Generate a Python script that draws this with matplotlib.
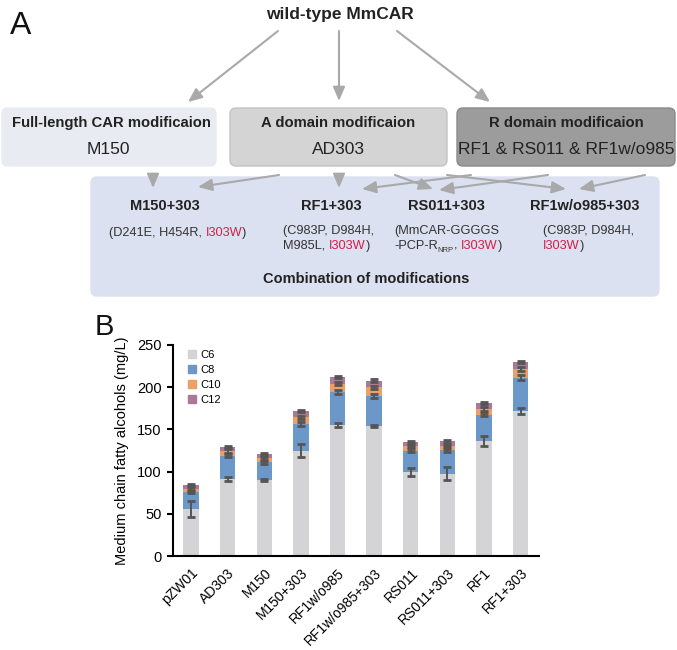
import matplotlib
matplotlib.use("Agg")
import matplotlib.pyplot as plt
from matplotlib.patches import FancyBboxPatch, FancyArrowPatch
from matplotlib.lines import Line2D
import numpy as np

plt.rcParams['font.family'] = ['Liberation Sans', 'DejaVu Sans']

# ---------------- data ----------------
strains = ["pZW01", "AD303", "M150", "M150+303", "RF1w/o985", "RF1w/o985+303",
           "RS011", "RS011+303", "RF1", "RF1+303"]
series = ["C6", "C8", "C10", "C12"]
c6 = [55.7, 91.2, 90.0, 124.8, 154.8, 154.0, 99.5, 97.6, 136.7, 171.4]
c8 = [20.5, 27.7, 21.0, 32.0, 39.5, 35.6, 25.3, 27.6, 30.8, 39.9]
c10 = [3.2, 5.5, 4.7, 7.5, 9.9, 10.2, 5.5, 5.1, 6.7, 10.3]
c12 = [4.7, 5.1, 5.1, 7.1, 7.5, 7.9, 4.7, 5.6, 6.7, 8.3]
c6_err = [9.0, 2.0, 1.5, 8.0, 2.5, 1.5, 4.5, 8.0, 6.0, 3.5]
c8_err = [2.0, 2.0, 1.5, 2.5, 2.5, 2.0, 2.0, 2.0, 2.0, 3.0]
c10_err = [2.0, 2.0, 1.5, 2.0, 2.0, 2.0, 1.5, 1.5, 2.0, 2.0]
c12_err = [1.0, 1.0, 1.0, 1.0, 1.0, 1.5, 1.0, 1.5, 1.0, 1.0]
yticks = [0, 50, 100, 150, 200, 250]
ylabel = "Medium chain fatty alcohols (mg/L)"

colors = ["#d4d4d6", "#6c97c9", "#eda065", "#a97a96"]
ecol = "#555555"
red = "#d41f47"
arrow_col = "#a9a9a9"

fig = plt.figure(figsize=(6.77, 6.5), dpi=100)

# ---------------- panel A (pixel coordinate overlay) ----------------
axA = fig.add_axes([0, 0, 1, 1])
axA.set_xlim(0, 677)
axA.set_ylim(650, 0)
axA.axis("off")

axA.text(10, 26, "A", fontsize=23, ha="left", va="center", color="#111111")
axA.text(340, 14, "wild-type MmCAR", fontsize=12.5, fontweight="bold",
         ha="center", va="center", color="#222222")

def rbox(x0, y0, x1, y1, fc, ec):
    p = FancyBboxPatch((x0 + 6, y0 + 6), (x1 - x0) - 12, (y1 - y0) - 12,
                       boxstyle="round,pad=6", fc=fc, ec=ec, lw=1.0)
    axA.add_patch(p)

rbox(2, 108, 216, 166, "#e8ecf2", "#e8ecf2")
rbox(230, 108, 447, 166, "#d4d4d4", "#c4c4c4")
rbox(457, 108, 675, 166, "#9c9c9c", "#8a8a8a")
rbox(91, 177, 659, 296, "#dbe1f0", "#dbe1f0")

hdr_fs = 10.7
axA.text(111, 123, "Full-length CAR modificaion", fontsize=hdr_fs, fontweight="bold",
         ha="center", va="center", color="#222222")
axA.text(108, 149, "M150", fontsize=12.5, ha="center", va="center", color="#222222")
axA.text(338, 123, "A domain modificaion", fontsize=hdr_fs, fontweight="bold",
         ha="center", va="center", color="#222222")
axA.text(338, 149, "AD303", fontsize=12.5, ha="center", va="center", color="#222222")
axA.text(566, 123, "R domain modificaion", fontsize=hdr_fs, fontweight="bold",
         ha="center", va="center", color="#222222")
axA.text(566, 149, "RF1 & RS011 & RF1w/o985", fontsize=12.5, ha="center", va="center",
         color="#222222")

def arrow(p0, p1):
    a = FancyArrowPatch(p0, p1, arrowstyle="-|>,head_length=0.7,head_width=0.3",
                        mutation_scale=12, color=arrow_col, lw=1.5, shrinkA=0, shrinkB=0)
    axA.add_patch(a)

arrow((278, 31), (188, 102))
arrow((339, 31), (339, 101))
arrow((397, 31), (490, 102))
arrow((153, 175), (153, 188))
arrow((279, 175), (198, 187))
arrow((339, 175), (339, 188))
arrow((395, 175), (433, 189))
arrow((447, 175), (566, 189))
arrow((471, 175), (362, 189))
arrow((548, 175), (439, 190))
arrow((645, 175), (579, 189))

# combination texts
axA.text(165, 206, "M150+303", fontsize=10.5, fontweight="bold", ha="center", va="center",
         color="#222222")
axA.text(331, 206, "RF1+303", fontsize=10.5, fontweight="bold", ha="center", va="center",
         color="#222222")
axA.text(446, 206, "RS011+303", fontsize=10.5, fontweight="bold", ha="center", va="center",
         color="#222222")
axA.text(585, 206, "RF1w/o985+303", fontsize=10.5, fontweight="bold", ha="center", va="center",
         color="#222222")
axA.text(366, 279, "Combination of modifications", fontsize=10.5, fontweight="bold",
         ha="center", va="center", color="#222222")

sm = 9.2
dark = "#333333"

def chain(x, y, pieces):
    first = axA.text(x, y, pieces[0][0], fontsize=sm, color=pieces[0][1],
                     ha="left", va="center")
    prev = first
    for s, c in pieces[1:]:
        if c == "sub":
            t = axA.annotate(s, xy=(1, 0), xycoords=(prev, first), fontsize=5.5,
                             color=dark, ha="left", va="bottom",
                             xytext=(0, -1.5), textcoords="offset points")
        else:
            t = axA.annotate(s, xy=(1, 0.5), xycoords=(prev, first), fontsize=sm,
                             color=c, ha="left", va="center")
        prev = t
    return first

chain(109, 233, [("(D241E, H454R, ", dark), ("I303W", red), (")", dark)])
chain(283, 231, [("(C983P, D984H,", dark)])
chain(283, 246, [("M985L, ", dark), ("I303W", red), (")", dark)])
chain(394, 231, [("(MmCAR-GGGGS", dark)])
chain(394, 246, [("-PCP-R", dark), ("NRP", "sub"), (", ", dark), ("I303W", red), (")", dark)])
chain(543, 231, [("(C983P, D984H,", dark)])
chain(543, 246, [("I303W", red), (")", dark)])

axA.text(95, 327, "B", fontsize=21, ha="left", va="center", color="#111111")

# ---------------- panel B (bar chart) ----------------
ax = fig.add_axes([172.7 / 677, (650 - 556) / 650, 366.3 / 677, (556 - 345) / 650])
x = np.arange(len(strains))
w = 0.42
vals = [np.array(c6), np.array(c8), np.array(c10), np.array(c12)]
errs = [c6_err, c8_err, c10_err, c12_err]
bottom = np.zeros(len(strains))
for v, c, lab in zip(vals, colors, series):
    ax.bar(x, v, w, bottom=bottom, color=c, label=lab, zorder=2)
    bottom = bottom + v
bottom = np.zeros(len(strains))
for v, e in zip(vals, errs):
    top = bottom + v
    ax.errorbar(x, top, yerr=e, fmt="none", ecolor=ecol, elinewidth=1.4,
                capsize=3.0, capthick=2.0, zorder=3)
    bottom = top

ax.set_xlim(-0.5, len(strains) - 0.5)
ax.set_ylim(0, 250)
ax.set_yticks(yticks)
ax.set_yticklabels([str(t) for t in yticks], fontsize=10.5)
ax.set_xticks(x)
ax.set_xticklabels(strains, rotation=45, ha="right", rotation_mode="anchor", fontsize=10)
ax.tick_params(axis="x", length=0, pad=7)
ax.tick_params(axis="y", length=4, width=1.5, direction="out", pad=4)
for s in ["top", "right"]:
    ax.spines[s].set_visible(False)
for s in ["left", "bottom"]:
    ax.spines[s].set_linewidth(1.5)
ax.set_ylabel(ylabel, fontsize=10.5, labelpad=6)

handles = [Line2D([], [], marker="s", ls="none", color=c, markersize=6) for c in colors]
ax.legend(handles, series, loc="upper left", bbox_to_anchor=(0.02, 1.01), frameon=False,
          fontsize=8, handletextpad=0.2, labelspacing=0.45, handlelength=1.0,
          borderaxespad=0.2)

fig.savefig("out.png", dpi=100)
